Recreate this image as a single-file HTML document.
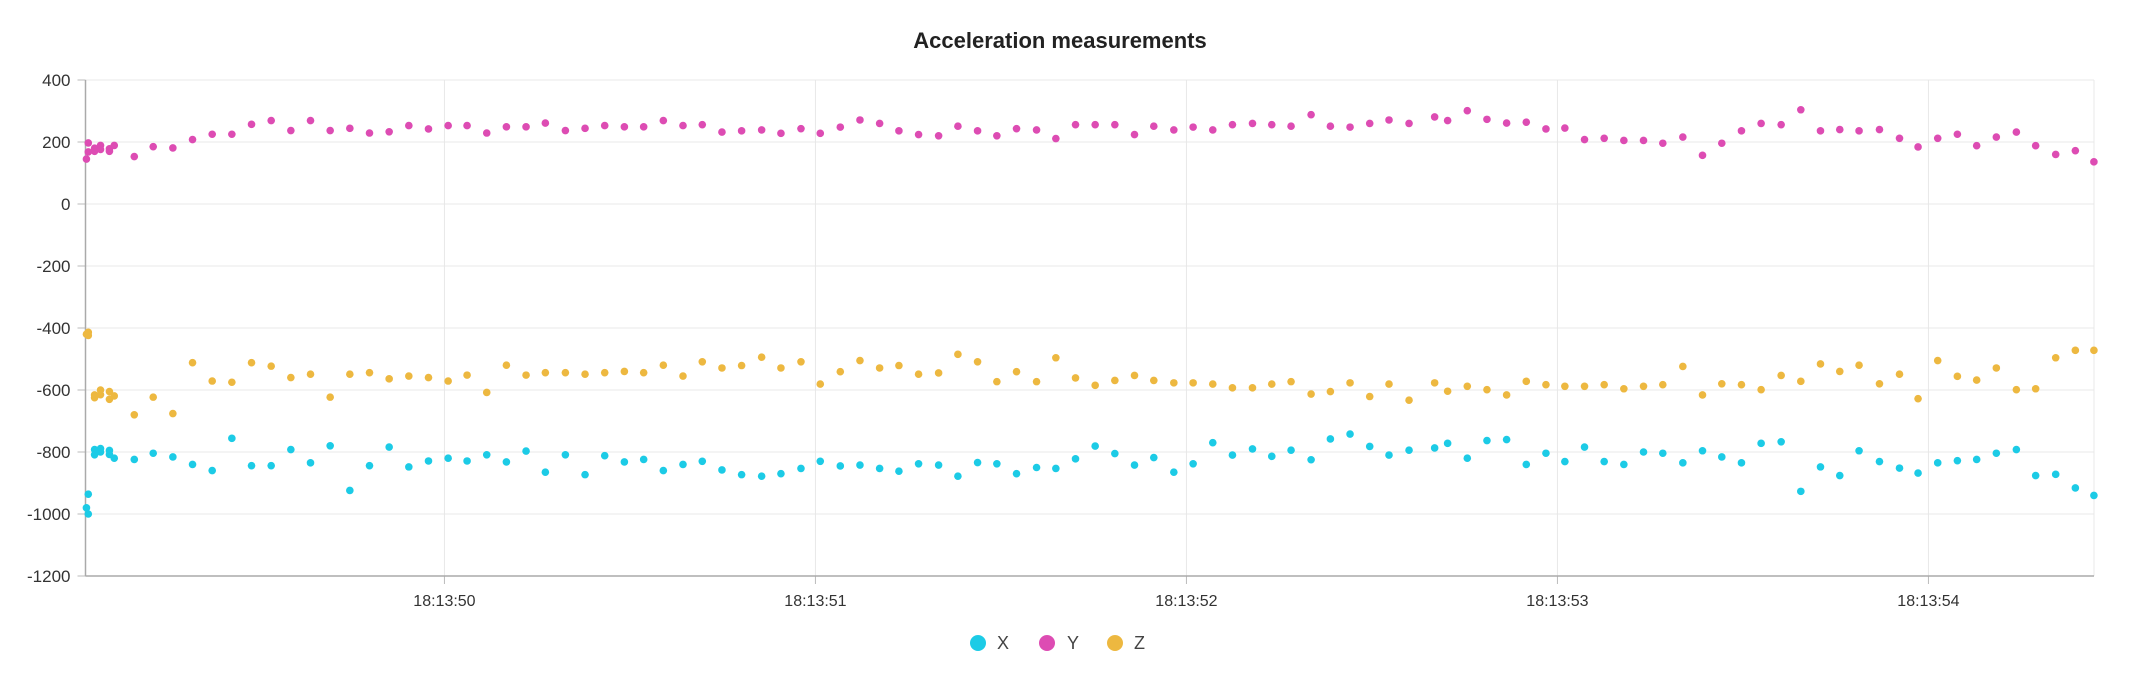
<!DOCTYPE html>
<html><head><meta charset="utf-8"><style>
html,body{margin:0;padding:0;background:#fff;}
svg{display:block;font-family:"Liberation Sans",sans-serif;}
</style></head><body>
<svg id="chart" width="2130" height="688" viewBox="0 0 2130 688" xmlns="http://www.w3.org/2000/svg">
<text x="1060" y="48" text-anchor="middle" font-size="22" font-weight="bold" fill="#222">Acceleration measurements</text>
<g id="grid"></g><g id="axes"></g><g id="marks"></g>
<g>
<g><circle cx="978" cy="643" r="8" fill="#1ccbe6"/><text x="997" y="649" font-size="18" fill="#444">X</text></g>
<g><circle cx="1047" cy="643" r="8" fill="#dd4cb3"/><text x="1067" y="649" font-size="18" fill="#444">Y</text></g>
<g><circle cx="1115" cy="643" r="8" fill="#edb840"/><text x="1134" y="649" font-size="18" fill="#444">Z</text></g>
</g>
</svg>
<script>
// seconds after 18:13:00
const times = [49.035,49.040,49.040,49.057,49.057,49.073,49.073,49.097,49.097,49.110,
49.164,49.215,49.268,49.321,49.374,49.427,49.480,49.533,49.586,49.639,49.692,49.745,49.798,49.851,49.904,49.957,50.010,50.061,50.114,50.167,50.220,50.272,50.326,50.379,50.432,50.485,50.537,50.590,50.643,
50.695,50.748,50.801,50.855,50.907,50.961,51.013,51.067,51.120,51.173,51.225,51.278,51.332,51.384,51.437,51.489,51.542,51.596,51.648,51.701,51.754,51.807,51.860,51.912,51.966,52.018,52.071,52.124,52.178,52.230,52.282,52.336,52.388,52.441,52.494,52.546,52.600,
52.669,52.704,52.757,52.810,52.863,52.916,52.969,53.020,53.073,53.126,53.179,53.232,53.284,53.338,53.391,53.443,53.496,53.549,53.603,53.656,53.709,53.761,53.813,53.868,53.922,53.972,54.025,54.078,54.130,54.183,54.237,54.289,54.343,54.396,54.446];
const seriesX = [-980,-936,-1000,-792,-809,-789,-800,-795,-808,-820,
-824,-804,-816,-840,-860,-756,-844,-844,-792,-835,-780,-924,-844,-784,-848,-829,-820,-829,-809,-832,-797,-865,-809,-873,-812,-832,-824,-860,-840,
-830,-858,-873,-878,-870,-853,-830,-845,-842,-853,-862,-838,-842,-878,-834,-838,-870,-850,-853,-822,-781,-805,-842,-818,-865,-838,-770,-810,-790,-814,-794,-825,-758,-742,-782,-810,-794,
-787,-772,-820,-763,-760,-840,-804,-831,-784,-831,-840,-800,-804,-835,-796,-816,-835,-772,-767,-927,-848,-876,-796,-831,-852,-868,-835,-828,-824,-804,-792,-876,-872,-916,-940];
const seriesY = [145,197,168,180,170,189,176,178,170,189,
153,185,181,208,225,225,257,269,237,269,237,244,229,233,253,242,253,253,229,249,249,261,237,244,253,249,249,269,253,
256,232,236,239,228,243,228,248,271,260,236,224,220,251,236,220,243,239,211,256,256,256,224,251,239,248,239,256,260,256,251,288,251,248,260,271,260,
281,269,301,273,261,264,242,245,208,212,205,205,196,216,157,196,236,260,256,304,236,240,236,240,212,184,212,225,188,216,232,188,160,172,136];
const seriesZ = [-420,-414,-424,-616,-625,-600,-615,-605,-630,-619,
-680,-623,-676,-512,-571,-575,-512,-523,-560,-549,-623,-549,-544,-564,-555,-560,-571,-552,-608,-520,-552,-544,-544,-549,-544,-540,-544,-520,-555,
-509,-529,-521,-494,-529,-509,-581,-541,-505,-529,-521,-549,-545,-485,-509,-573,-541,-573,-496,-561,-585,-569,-553,-569,-577,-577,-581,-593,-593,-581,-573,-613,-605,-577,-621,-581,-633,
-577,-604,-588,-599,-616,-572,-583,-588,-588,-583,-596,-588,-583,-524,-616,-580,-583,-599,-553,-572,-516,-540,-520,-580,-549,-628,-505,-556,-568,-529,-599,-596,-496,-472,-472];
const yTicks = [400,200,0,-200,-400,-600,-800,-1000,-1200];
const xTicks = [50,51,52,53,54];
const xTickLabels = ["18:13:50","18:13:51","18:13:52","18:13:53","18:13:54"];

const L=85.5, R=2094, T=80, B=576;
const tMin=49.0325, tPerPx=1/371;
function xs(t){return L+(t-tMin)/tPerPx;}
function ys(v){return T+(400-v)/1600*(B-T);}
const NS="http://www.w3.org/2000/svg";
function mk(tag,attrs,parent){const e=document.createElementNS(NS,tag);for(const k in attrs)e.setAttribute(k,attrs[k]);parent.appendChild(e);return e;}
const grid=document.getElementById('grid'), axes=document.getElementById('axes'), marks=document.getElementById('marks');
yTicks.forEach(v=>{
  const y=ys(v);
  const gl=mk('line',{x1:L,x2:R,y1:y,y2:y,stroke:'#e8e8e8','stroke-width':1},grid);
  
  
  const tk=mk('line',{x1:L-8,x2:L,y1:y,y2:y,stroke:'#bbb','stroke-width':1},axes);
  
  
  const tx=mk('text',{x:L-15,y:y+6,'text-anchor':'end','font-size':17,fill:'#333'},axes);
  tx.textContent=String(v);
  
  
});
const rb=mk('line',{x1:R,x2:R,y1:T,y2:B,stroke:'#e8e8e8','stroke-width':1},grid);


xTicks.forEach((t,i)=>{
  const x=xs(t);
  const gl=mk('line',{x1:x,x2:x,y1:T,y2:B,stroke:'#e8e8e8','stroke-width':1},grid);
  
  
  const tk=mk('line',{x1:x,x2:x,y1:B,y2:B+8,stroke:'#bbb','stroke-width':1},axes);
  
  
  const tx=mk('text',{x:x,y:B+30,'text-anchor':'middle','font-size':16,fill:'#333'},axes);
  tx.textContent=xTickLabels[i];
  
  
});
const ya=mk('line',{x1:L,x2:L,y1:T,y2:B,stroke:'#aaa','stroke-width':1.5},axes);


const xa=mk('line',{x1:L,x2:R,y1:B,y2:B,stroke:'#aaa','stroke-width':1.5},axes);


function drawSeries(vals,color,name){
  vals.forEach((v,i)=>{
    const c=mk('circle',{cx:xs(times[i]),cy:ys(v),r:3.8,fill:color},marks);
    
    
  });
}
drawSeries(seriesX,'#1ccbe6','point-x');
drawSeries(seriesY,'#dd4cb3','point-y');
drawSeries(seriesZ,'#edb840','point-z');
</script>
</body></html>
